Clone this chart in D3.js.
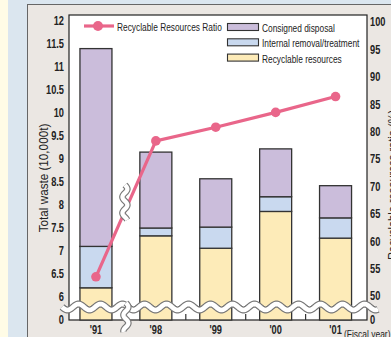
<!DOCTYPE html>
<html>
<head>
<meta charset="utf-8">
<script src="https://cdn.jsdelivr.net/npm/d3@7"></script>
<style>
  html, body { margin: 0; padding: 0; background: #fffce6; }
  svg { display: block; }
  text { font-family: "Liberation Sans Narrow", "Arial Narrow", "Liberation Sans", sans-serif; }
</style>
</head>
<body>
<svg id="chart" width="391" height="337"></svg>
<script>
// Fiscal years and waste breakdown (10,000 t)
const years = ["'91", "'98", "'99", "'00", "'01"];
const recyclable = [6.2, 7.33, 7.06, 7.86, 7.28];
const internal = [0.9, 0.17, 0.46, 0.32, 0.44];
const consigned = [4.3, 1.65, 1.05, 1.04, 0.70];
// Recyclable resources ratio (%)
const ratio = [53.5, 78.3, 80.8, 83.5, 86.4];
const leftTicks = [0, 6, 6.5, 7, 7.5, 8, 8.5, 9, 9.5, 10, 10.5, 11, 11.5, 12];
const rightTicks = [0, 50, 55, 60, 65, 70, 75, 80, 85, 90, 95, 100];
const seriesNames = ["Consigned disposal", "Internal removal/treatment", "Recyclable resources"];

const colors = {
  recyclable: "#fdebb8",
  internal: "#c9d9ef",
  consigned: "#cbbddb",
  line: "#e9668a",
  frame: "#333"
};
const SX = 0.77; // horizontal condensing for labels

const svg = d3.select("#chart");

// Backgrounds
svg.append("rect").attr("x", 8).attr("y", 0).attr("width", 383).attr("height", 337).attr("fill", "#dbe6ef");
svg.append("rect").attr("x", 27.5).attr("y", 4.5).attr("width", 370).attr("height", 340)
  .attr("fill", "#ebe7e3").attr("stroke", "#666").attr("stroke-width", 1);

const plot = { left: 69, right: 367, top: 15, bottom: 320 };
svg.append("rect").attr("x", plot.left).attr("y", plot.top)
  .attr("width", plot.right - plot.left).attr("height", plot.bottom - plot.top)
  .attr("fill", "#fff").attr("stroke", "#222").attr("stroke-width", 1.2);

// Scales (broken axes: 0 sits just below the break)
const x = d3.scaleBand().domain(years).range([66, 365.5]).padding(0);
const y = d3.scaleLinear().domain([0, 6, 12]).range([320, 297, 21]);
const yr = d3.scaleLinear().domain([0, 50, 100]).range([320, 296, 22]);
const barW = 32;
const cx = d => x(d) + x.bandwidth() / 2;

// Stacked bars
const rows = years.map((yr_, i) => ({ year: yr_, recyclable: recyclable[i], internal: internal[i], consigned: consigned[i] }));
const stack = d3.stack().keys(["recyclable", "internal", "consigned"])(rows);
svg.append("g").selectAll("g").data(stack).join("g")
  .attr("fill", d => colors[d.key])
  .selectAll("rect").data(d => d).join("rect")
  .attr("x", d => cx(d.data.year) - barW / 2)
  .attr("width", barW)
  .attr("y", d => y(d[1]))
  .attr("height", d => y(d[0]) - y(d[1]))
  .attr("stroke", colors.frame).attr("stroke-width", 1.3);

// Small ticks between categories on the x axis
const bounds = years.slice(1).map(d => x(d));
svg.append("g").selectAll("line").data(bounds.slice(1)).join("line")
  .attr("x1", d => d).attr("x2", d => d)
  .attr("y1", plot.bottom).attr("y2", plot.bottom - 6)
  .attr("stroke", colors.frame).attr("stroke-width", 1.2);

// Horizontal wavy break band
function wavePath(x0, x1, yc, amp, period) {
  const pts = [];
  for (let xx = x0; xx <= x1; xx += 1) pts.push([xx, yc + amp * Math.sin((xx - x0) / period * 2 * Math.PI)]);
  return d3.line()(pts);
}
svg.append("path").attr("d", wavePath(62, 378, 307, 3, 22))
  .attr("fill", "none").attr("stroke", "#777").attr("stroke-width", 7);
svg.append("path").attr("d", wavePath(62, 378, 307, 3, 22))
  .attr("fill", "none").attr("stroke", "#fff").attr("stroke-width", 4.6);

// Vertical wavy break marks between '91 and '98
function vWave(xc, y0, y1, amp, period) {
  const pts = [];
  for (let yy = y0; yy <= y1; yy += 1) pts.push([xc + amp * Math.sin((yy - y0) / period * 2 * Math.PI), yy]);
  return d3.line()(pts);
}

// Ratio line
const lineGen = d3.line().x((d, i) => cx(years[i])).y(d => yr(d));
svg.append("path").datum(ratio).attr("d", lineGen)
  .attr("fill", "none").attr("stroke", colors.line).attr("stroke-width", 3.2);

const bx = bounds[0];
[[bx - 1, 185, 220], [bx, 303, 332]].forEach(([xc, a, b]) => {
  svg.append("path").attr("d", vWave(xc, a, b, 2.5, 16)).attr("fill", "none").attr("stroke", "#777").attr("stroke-width", 6.5);
  svg.append("path").attr("d", vWave(xc, a, b, 2.5, 16)).attr("fill", "none").attr("stroke", "#fff").attr("stroke-width", 4.2);
});

svg.append("g").selectAll("circle").data(ratio).join("circle")
  .attr("cx", (d, i) => cx(years[i]))
  .attr("cy", d => yr(d)).attr("r", 4.8).attr("fill", colors.line);

// Condensed text helper
function label(g, px, py, str, size, opts = {}) {
  return g.append("text")
    .attr("transform", `translate(${px},${py}) ${opts.rotate ? "rotate(" + opts.rotate + ")" : ""} scale(${opts.sx || SX},1)`)
    .attr("dy", opts.dy || "0.36em")
    .attr("text-anchor", opts.anchor || "start")
    .attr("font-size", size)
    .attr("font-weight", opts.bold ? "bold" : "normal")
    .attr("fill", "#222")
    .text(str);
}

const axes = svg.append("g");
leftTicks.forEach(t => label(axes, 64, y(t), t, 12, { anchor: "end", bold: true }));
rightTicks.forEach(t => label(axes, 370, yr(t), t, 12, { bold: true }));
years.forEach(d => label(axes, cx(d), 330, d, 12, { anchor: "middle", bold: true }));
label(axes, 344, 338, "(Fiscal year)", 11, { dy: "0" });

// Axis titles
label(axes, 43, 178, "Total waste (10,000t)", 13, { rotate: -90, anchor: "middle", dy: "0.35em", sx: 0.9 });
label(axes, 397, 185, "Recyclable resources ratio (%)", 13, { rotate: -90, anchor: "middle", dy: "0", sx: 0.85 });

// Legend
const lg = svg.append("g");
lg.append("line").attr("x1", 84).attr("x2", 114).attr("y1", 26).attr("y2", 26)
  .attr("stroke", colors.line).attr("stroke-width", 3.2);
lg.append("circle").attr("cx", 98).attr("cy", 26).attr("r", 5).attr("fill", colors.line);
label(lg, 117, 27, "Recyclable Resources Ratio", 11, { sx: 0.76 });
const legendFill = [colors.consigned, colors.internal, colors.recyclable];
seriesNames.forEach((name, i) => {
  const yy = 27 + i * 15.3;
  lg.append("rect").attr("x", 227.5).attr("y", yy - 3.5).attr("width", 31).attr("height", 7)
    .attr("fill", legendFill[i]).attr("stroke", colors.frame).attr("stroke-width", 1.1);
  label(lg, 262, yy + 1, name, 11, { sx: 0.76 });
});
</script>
</body>
</html>
